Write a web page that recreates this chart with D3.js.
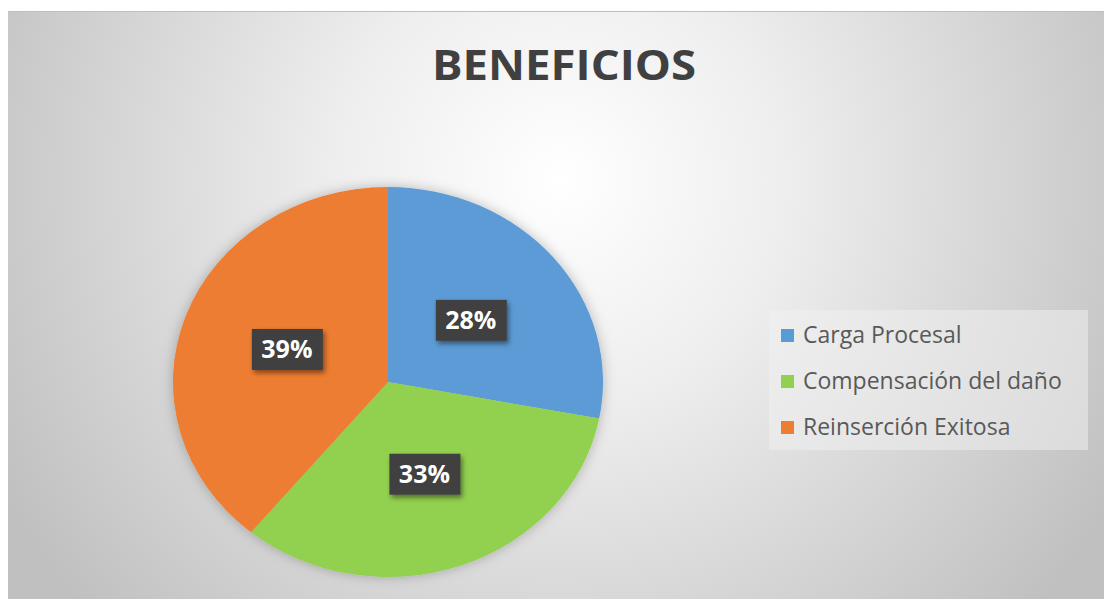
<!DOCTYPE html>
<html>
  <head>
    <meta charset="utf-8">
    <title>Beneficios</title>
    <script src="https://cdn.jsdelivr.net/npm/d3@7"></script>
    <style>
      body { margin: 0; background: #fff; }
      svg { display: block; }
    </style>
  </head>
  <body>
    <script>
    var categories = ['Carga Procesal', 'Compensación del daño', 'Reinserción Exitosa'];
    var values = [28, 33, 39];
    var colors = ['#5B9BD5', '#92D050', '#ED7D31'];

    var width = 1104, height = 599;

    var svg = d3.select('body').append('svg')
        .attr('width', width)
        .attr('height', height);

    var defs = svg.append('defs');

    // background gradient
    var grad = defs.append('radialGradient')
        .attr('id', 'bg')
        .attr('gradientUnits', 'userSpaceOnUse')
        .attr('cx', 560).attr('cy', 180).attr('r', 640);
    grad.append('stop').attr('offset', '0%').attr('stop-color', '#ffffff');
    grad.append('stop').attr('offset', '35%').attr('stop-color', '#eeeeee');
    grad.append('stop').attr('offset', '100%').attr('stop-color', '#c0c0c0');

    var shadow = defs.append('filter').attr('id', 'shadow')
        .attr('x', '-20%').attr('y', '-20%').attr('width', '140%').attr('height', '140%');
    shadow.append('feDropShadow')
        .attr('dx', 2).attr('dy', 3).attr('stdDeviation', 2.5)
        .attr('flood-color', '#000').attr('flood-opacity', 0.45);

    var pieShadow = defs.append('filter').attr('id', 'pieshadow')
        .attr('x', '-20%').attr('y', '-20%').attr('width', '140%').attr('height', '140%');
    pieShadow.append('feDropShadow')
        .attr('dx', 0).attr('dy', 0).attr('stdDeviation', 6)
        .attr('flood-color', '#000').attr('flood-opacity', 0.25);

    svg.append('rect')
        .attr('x', 8).attr('y', 11)
        .attr('width', width - 8).attr('height', height - 11)
        .attr('fill', 'url(#bg)');
    svg.append('line')
        .attr('x1', 8).attr('x2', width).attr('y1', 11.5).attr('y2', 11.5)
        .attr('stroke', '#bdbdbd');

    // title
    svg.append('text')
        .attr('x', 564).attr('y', 80)
        .attr('text-anchor', 'middle')
        .attr('font-family', 'Open Sans')
        .attr('font-weight', 'bold')
        .attr('font-size', 42)
        .attr('fill', '#404040')
        .attr('textLength', 264)
        .attr('lengthAdjust', 'spacingAndGlyphs')
        .text('BENEFICIOS');

    // pie (slightly stretched horizontally like the reference)
    var cx = 388, cy = 382, r = 195, sx = 215 / 195;

    var pie = d3.pie().sort(null).value(function(d) { return d; });
    var arcs = pie(values);
    var arc = d3.arc().innerRadius(0).outerRadius(r);

    var pieG = svg.append('g')
        .attr('transform', 'translate(' + cx + ',' + cy + ') scale(' + sx + ',1)')
        .attr('filter', 'url(#pieshadow)');

    pieG.selectAll('path')
      .data(arcs)
      .enter()
      .append('path')
        .attr('d', arc)
        .attr('fill', function(d, i) { return colors[i]; });

    // labels
    var labels = svg.append('g');
    arcs.forEach(function(d, i) {
      var c = arc.centroid(d);
      var x = cx + c[0] * sx, y = cy + c[1];
      var g = labels.append('g').attr('transform', 'translate(' + x + ',' + y + ')');
      g.append('rect')
          .attr('x', -35).attr('y', -20)
          .attr('width', 71).attr('height', 41)
          .attr('fill', '#404040')
          .attr('filter', 'url(#shadow)');
      g.append('text')
          .attr('y', 9)
          .attr('text-anchor', 'middle')
          .attr('font-family', 'Open Sans')
          .attr('font-weight', 'bold')
          .attr('font-size', 25)
          .attr('fill', '#fff')
          .text(values[i] + '%');
    });

    // legend
    var legend = svg.append('g');
    legend.append('rect')
        .attr('x', 769).attr('y', 310)
        .attr('width', 319).attr('height', 140)
        .attr('fill', '#f2f2f2').attr('fill-opacity', 0.5);

    var rowY = d3.scalePoint().domain(categories).range([335, 427]);
    var item = legend.selectAll('.item')
      .data(categories)
      .enter()
      .append('g')
        .attr('transform', function(d) { return 'translate(781,' + rowY(d) + ')'; });
    item.append('rect')
        .attr('x', 0).attr('y', -6)
        .attr('width', 13).attr('height', 13)
        .attr('fill', function(d, i) { return colors[i]; });
    item.append('text')
        .attr('x', 22).attr('y', 8)
        .attr('font-family', 'Open Sans')
        .attr('font-size', 23)
        .attr('fill', '#595959')
        .text(function(d) { return d; });
    </script>
  </body>
</html>
